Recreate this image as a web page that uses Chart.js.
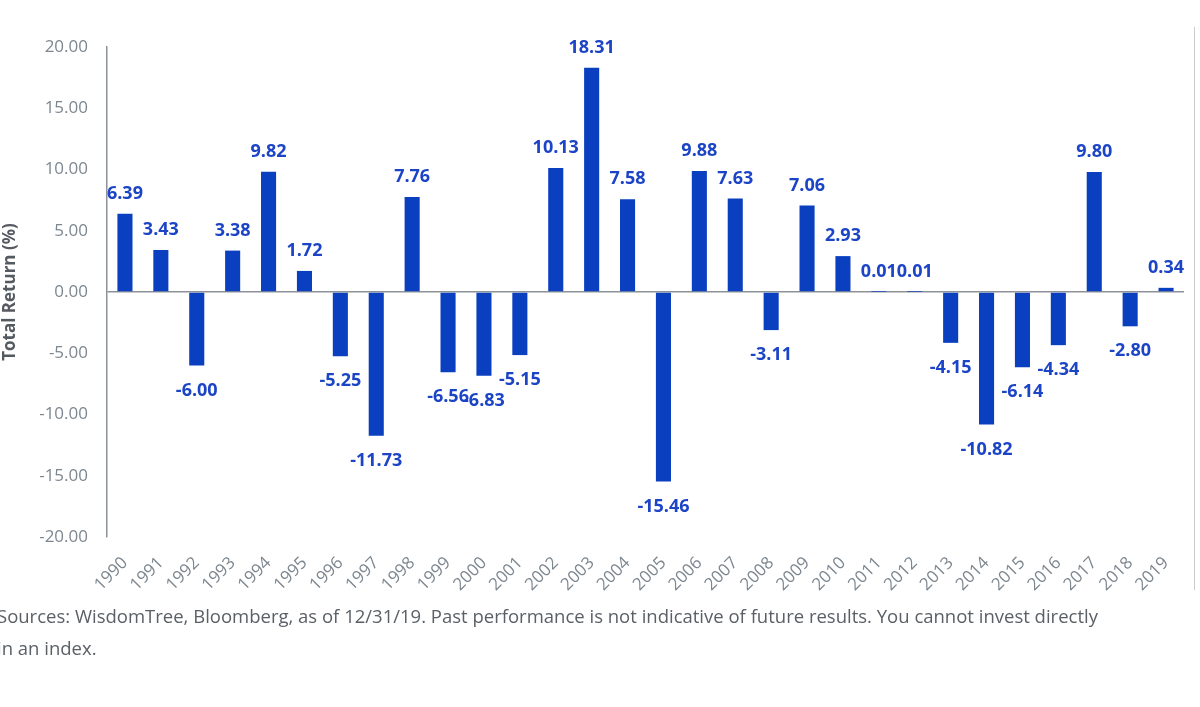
<!DOCTYPE html>
<html>
<head>
<meta charset="utf-8">
<script src="https://cdn.jsdelivr.net/npm/chart.js@4"></script>
<style>
  html, body { margin: 0; padding: 0; background: #fff; }
  #wrap { position: relative; width: 1200px; height: 707px; overflow: hidden; }
  #grafico { position: absolute; left: 0; top: 0; }
  #fonte {
    position: absolute; left: -3px; top: 600px; width: 1180px;
    font-family: "Open Sans", Lato, sans-serif; font-size: 18.5px; line-height: 32px;
    color: #5b6066;
  }
  #borda { position: absolute; left: 1194px; top: 27px; width: 1px; height: 563px; background: #c9cccf; }
</style>
</head>
<body>
<div id="wrap">
  <canvas id="grafico" width="1200" height="707"></canvas>
  <div id="borda"></div>
  <div id="fonte">Sources: WisdomTree, Bloomberg, as of 12/31/19. Past performance is not indicative of future results. You cannot invest directly<br>in an index.</div>
</div>
<script>
const anos = ['1990', '1991', '1992', '1993', '1994', '1995', '1996', '1997', '1998', '1999',
  '2000', '2001', '2002', '2003', '2004', '2005', '2006', '2007', '2008', '2009',
  '2010', '2011', '2012', '2013', '2014', '2015', '2016', '2017', '2018', '2019'];
const retornos = [6.39, 3.43, -6.00, 3.38, 9.82, 1.72, -5.25, -11.73, 7.76, -6.56,
  -6.83, -5.15, 10.13, 18.31, 7.58, -15.46, 9.88, 7.63, -3.11, 7.06,
  2.93, 0.01, 0.01, -4.15, -10.82, -6.14, -4.34, 9.80, -2.80, 0.34];
const ticksY = [-20, -15, -10, -5, 0, 5, 10, 15, 20];

const rotulos = {
  id: 'rotulos',
  afterDatasetsDraw(chart) {
    const ctx = chart.ctx;
    const meta = chart.getDatasetMeta(0);
    ctx.save();
    ctx.font = 'bold 18px "Open Sans", Lato, sans-serif';
    ctx.fillStyle = '#1c44c6';
    ctx.textAlign = 'center';
    ctx.textBaseline = 'middle';
    meta.data.forEach(function (barra, i) {
      const v = retornos[i];
      const y = v >= 0 ? barra.y - 20 : barra.y + 25;
      ctx.fillText(v.toFixed(2), barra.x, y);
    });
    ctx.restore();
  }
};

const ctx = document.getElementById('grafico').getContext('2d');
const grafico = new Chart(ctx, {
  type: 'bar',
  data: {
    labels: anos,
    datasets: [{
      data: retornos,
      backgroundColor: '#0a3fbf',
      borderWidth: 0,
      barPercentage: 0.84,
      categoryPercentage: 0.5
    }]
  },
  options: {
    responsive: false,
    animation: false,
    layout: { padding: { top: 47, right: 16, left: 0, bottom: 0 } },
    plugins: { legend: { display: false }, tooltip: { enabled: false } },
    scales: {
      x: {
        grid: { display: false },
        border: { display: false },
        afterFit(scale) { scale.height = 170; },
        ticks: {
          color: '#7d8790',
          font: { family: '"Open Sans", Lato, sans-serif', size: 17 },
          minRotation: 45,
          maxRotation: 45,
          padding: 8,
          autoSkip: false
        }
      },
      y: {
        min: -20,
        max: 20,
        afterFit(scale) { scale.width = 107; },
        afterBuildTicks(scale) { scale.ticks = ticksY.map(function (v) { return { value: v }; }); },
        border: { display: true, color: '#8d9297', width: 1.5 },
        grid: {
          drawTicks: false,
          lineWidth: 1.5,
          color: function (c) { return c.tick && c.tick.value === 0 ? '#8d9297' : 'rgba(0,0,0,0)'; }
        },
        ticks: {
          color: '#7d8790',
          padding: 19,
          font: { family: '"Open Sans", Lato, sans-serif', size: 17 },
          callback: function (v) { return Number(v).toFixed(2); }
        },
        title: {
          display: true,
          text: 'Total Return (%)',
          color: '#555a60',
          padding: { top: 0, bottom: 0 },
          font: { family: '"Open Sans", Lato, sans-serif', size: 17, weight: 'bold' }
        }
      }
    }
  },
  plugins: [rotulos]
});
</script>
</body>
</html>
